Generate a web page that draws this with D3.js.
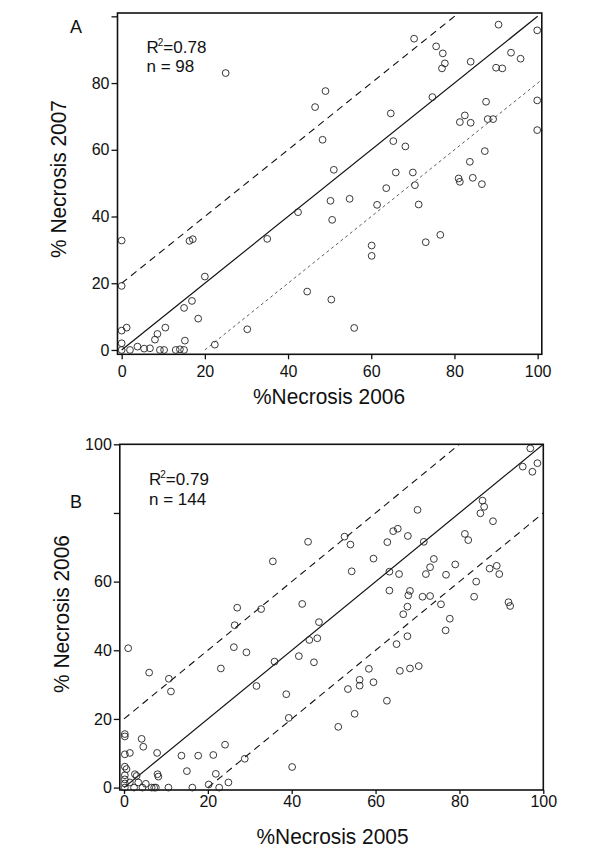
<!DOCTYPE html>
<html>
<head>
<meta charset="utf-8">
<script src="https://cdn.jsdelivr.net/npm/d3@7"></script>
<style>
  html, body { margin: 0; padding: 0; background: #fff; }
  svg { display: block; }
  text { font-family: "Liberation Sans", Arial, sans-serif; fill: #111; }
</style>
</head>
<body>
<svg id="chart" width="600" height="849"></svg>
<script>
// ---------- Panel A data: %Necrosis 2006 (x) vs 2007 (y) ----------
const aNecrosis2006 = [25,49,46.5,48.3,70.3,75.6,77.2,77.7,77,90.6,99.9,93.6,95.9,83.9,90,91.5,74.7,87.6,99.9,64.7,82.5,81.3,83.9,88,89.3,99.9,65.3,68.2,87.3,51,65.9,70,83.7,63.6,70.5,81,81.3,84.4,86.6,50.2,54.8,61.4,71.4,50.6,60.1,60.1,73.1,76.6,50.4,55.9,42.4,35,0,16.3,17.1,20,0,16.9,15,18.4,44.6,30.2,22.4,0,1.2,10.5,8.6,8,0,15.2,3.8,5.4,6.8,0,2,9.2,10.2,13,14,15];
const aNecrosis2007 = [83,77.6,72.8,63,93.3,91,88.9,85.9,84.4,97.5,95.8,89.1,87.3,86.4,84.6,84.4,75.8,74.4,74.8,70.9,70.3,68.3,68.1,69.2,69.2,65.9,62.6,61,59.6,54,53.2,53.2,56.4,48.5,49.4,51.4,50.4,51.6,49.7,44.7,45.3,43.5,43.6,39,31.3,28.2,32.3,34.5,15.1,6.6,41.3,33.3,32.8,32.7,33.2,22,19.2,14.7,12.6,9.4,17.5,6.2,1.6,5.8,6.7,6.7,4.8,3.1,2,2.8,1,0.4,0.5,0,0,0,0,0,0.2,0];

// ---------- Panel B data: %Necrosis 2005 (x) vs 2006 (y) ----------
const bNecrosis2005 = [43.9,35.5,96.9,95.1,97.4,98.6,85.5,85.9,85,88,70,52.6,54,64.2,65.3,67.7,62.8,71.5,81.3,82.1,59.5,54.3,63.3,65.6,73.9,73,72,76.8,79,87.2,88.9,89.5,84,63.3,68.2,67.8,71.2,73,83.5,91.7,92.1,75.6,67.6,66.6,77.7,76.7,67.6,65,46.5,46.1,44.2,58.4,65.8,68.2,70.3,56.2,56.2,53.4,59.5,62.7,55,51.1,42.5,32.7,27,26.4,26.2,29.2,23.1,35.9,41.7,45.3,31.6,38.7,39.3,40.1,1,6,10.7,11.2,0.2,0.2,4.2,4.6,0.2,1.4,7.9,13.7,17.7,21.3,24.1,28.8,15,21.9,0.2,0.6,2.6,3,8,8.2,0.2,0.2,0.2,0.2,1.4,3.4,5.2,2.4,4.4,6.6,7.2,7.6,10.6,16.3,20.2,22.7,24.9];
const bNecrosis2006 = [71.6,65.9,98.8,93.5,92,94.5,83.6,81.8,79.9,77.6,80.9,73.1,70.8,74.7,75.4,73.3,71.5,71.6,73.9,72.1,66.7,63,62.9,62.2,66.6,64.2,62.2,62,65,63.8,64.6,62.2,60,57.4,57.3,56,55.6,55.8,55.6,54,52.9,53.4,52.7,50.5,49.2,45.8,44.1,41.8,48.2,43.5,43,34.6,34,34.7,35.4,31.4,29.7,28.7,30.7,25.3,21.5,17.7,53.5,52,52.4,47.3,40.9,39.4,34.7,36.7,38.3,36.5,29.6,27.2,20.3,6,40.6,33.5,31.7,28,15.6,14.9,14.2,11.9,9.7,10.1,10.1,9.3,9.3,9.5,12.5,8.4,4.8,4,6.1,5.4,3.9,3.4,3.9,3.2,3.6,2.4,1.2,0,1.5,1.5,1.1,0,0,0,0,0,0,0,0.9,0,1.5];

// ---------- tick values / labels ----------
const xTicks = [0, 20, 40, 60, 80, 100];
const yTicks = [0, 20, 40, 60, 80, 100];
const aYLabelled = [0, 20, 40, 60, 80];
const bYLabelled = [0, 20, 40, 60, 100];

const svg = d3.select("#chart");
svg.append("rect").attr("width", 600).attr("height", 849).attr("fill", "#fff");

const panels = [
  {
    id: "A", xs: aNecrosis2006, ys: aNecrosis2007,
    xDom: [-1, 101], xRange: [117.5, 541.8],
    yDom: [-1.3, 101], yRange: [354.3, 13],
    yLabelled: aYLabelled,
    xTitle: "%Necrosis 2006", yTitle: "% Necrosis 2007",
    r2: "0.78", n: "98",
    letter: [76, 33], annot: [146.5, 52.5],
    xTitlePos: [329, 404], yTitlePos: [66, 179],
    xTickPad: 6, xTickSize: 5,
    lowerStyle: { dash: "3,3", width: 0.8, color: "#333" }
  },
  {
    id: "B", xs: bNecrosis2005, ys: bNecrosis2006,
    xDom: [-1, 100], xRange: [119.8, 543.3],
    yDom: [-0.7, 100], yRange: [790, 444.3],
    yLabelled: bYLabelled,
    xTitle: "%Necrosis 2005", yTitle: "% Necrosis 2006",
    r2: "0.79", n: "144",
    letter: [76, 507.5], annot: [149, 485],
    xTitlePos: [332.5, 844], yTitlePos: [69, 614],
    xTickPad: 2, xTickSize: 4,
    lowerStyle: { dash: "7,5", width: 1.1, color: "#111" }
  }
];

panels.forEach((p, i) => {
  const x = d3.scaleLinear().domain(p.xDom).range(p.xRange);
  const y = d3.scaleLinear().domain(p.yDom).range(p.yRange);
  const g = svg.append("g");
  const clipId = "clip" + p.id;
  svg.append("clipPath").attr("id", clipId).append("rect")
    .attr("x", p.xRange[0]).attr("y", p.yRange[1])
    .attr("width", p.xRange[1] - p.xRange[0]).attr("height", p.yRange[0] - p.yRange[1]);

  // reference lines: 1:1 and +/- 20
  const lines = g.append("g").attr("clip-path", `url(#${clipId})`);
  const seg = (x1, y1, x2, y2) => lines.append("line")
    .attr("x1", x(x1)).attr("y1", y(y1)).attr("x2", x(x2)).attr("y2", y(y2));
  seg(0, 0, 100, 100).attr("stroke", "#111").attr("stroke-width", 1.2);
  seg(0, 20, 90, 110).attr("stroke", "#111").attr("stroke-width", 1.1).attr("stroke-dasharray", "7,5");
  seg(20, 0, 110, 90).attr("stroke", p.lowerStyle.color).attr("stroke-width", p.lowerStyle.width)
    .attr("stroke-dasharray", p.lowerStyle.dash);

  // frame
  g.append("rect")
    .attr("x", p.xRange[0]).attr("y", p.yRange[1])
    .attr("width", p.xRange[1] - p.xRange[0]).attr("height", p.yRange[0] - p.yRange[1])
    .attr("fill", "none").attr("stroke", "#111").attr("stroke-width", 1.6);

  // points
  g.append("g").selectAll("circle")
    .data(p.xs.map((v, k) => [v, p.ys[k]]))
    .join("circle")
    .attr("cx", d => x(d[0])).attr("cy", d => y(d[1])).attr("r", 3.4)
    .attr("fill", "none").attr("stroke", "#222").attr("stroke-width", 0.9);

  // x axis
  const xAxis = d3.axisBottom(x).tickValues(xTicks).tickSize(p.xTickSize).tickPadding(p.xTickPad)
    .tickSizeOuter(0).tickFormat(d3.format("d"));
  const xg = g.append("g").attr("transform", `translate(0,${p.yRange[0]})`).call(xAxis);
  xg.select(".domain").remove();
  xg.selectAll("line").attr("stroke", "#111").attr("stroke-width", 1.3);
  xg.selectAll("text").attr("font-size", 16).attr("font-family", "Liberation Sans, Arial, sans-serif").attr("fill", "#111");

  // y axis
  const yAxis = d3.axisLeft(y).tickValues(yTicks).tickSize(6).tickPadding(2).tickSizeOuter(0)
    .tickFormat(d => p.yLabelled.includes(d) ? d3.format("d")(d) : "");
  const yg = g.append("g").attr("transform", `translate(${p.xRange[0]},0)`).call(yAxis);
  yg.select(".domain").remove();
  yg.selectAll("line").attr("stroke", "#111").attr("stroke-width", 1.3);
  yg.selectAll("text").attr("font-size", 16).attr("font-family", "Liberation Sans, Arial, sans-serif").attr("fill", "#111");

  // axis titles
  g.append("text").attr("x", p.xTitlePos[0]).attr("y", p.xTitlePos[1])
    .attr("text-anchor", "middle").attr("font-size", 22)
    .attr("textLength", 152).attr("lengthAdjust", "spacingAndGlyphs").text(p.xTitle);
  g.append("text")
    .attr("transform", `translate(${p.yTitlePos[0]},${p.yTitlePos[1]}) rotate(-90)`)
    .attr("text-anchor", "middle").attr("font-size", 22)
    .attr("textLength", 158).attr("lengthAdjust", "spacingAndGlyphs").text(p.yTitle);

  // panel letter
  g.append("text").attr("x", p.letter[0]).attr("y", p.letter[1])
    .attr("text-anchor", "middle").attr("font-size", 18).text(p.id);

  // annotations
  const t1 = g.append("text").attr("x", p.annot[0]).attr("y", p.annot[1]).attr("font-size", 17);
  t1.append("tspan").text("R");
  t1.append("tspan").attr("font-size", 10).attr("dy", -7).attr("dx", -1).text("2");
  t1.append("tspan").attr("dy", 7).text("=" + p.r2);
  g.append("text").attr("x", p.annot[0]).attr("y", p.annot[1] + 19.5).attr("font-size", 17)
    .text("n = " + p.n);
});
</script>
</body>
</html>
